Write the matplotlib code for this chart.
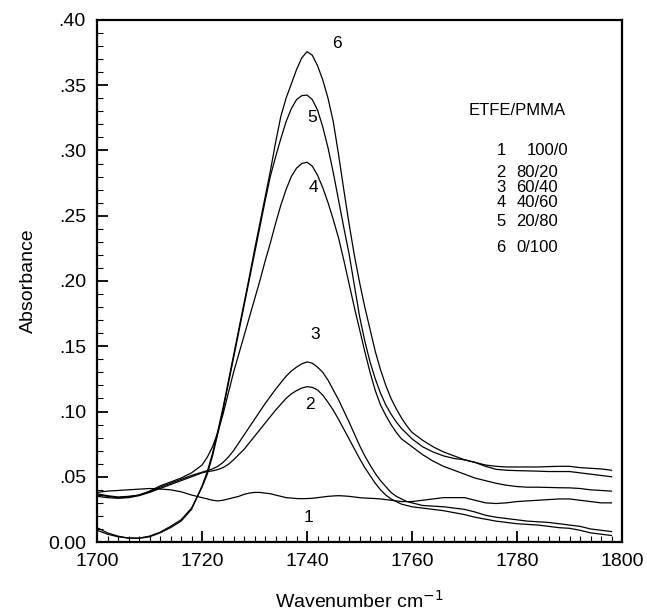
import numpy as np
import matplotlib
matplotlib.use("Agg")
import matplotlib.pyplot as plt
from matplotlib.ticker import MultipleLocator

plt.rcParams['font.family'] = ['Liberation Sans', 'DejaVu Sans']

# wavenumber grid (cm-1): every 2 on the flat parts, every 1 across the band
wavenumber = np.concatenate([np.arange(1700, 1721, 2),
                             np.arange(1721, 1761, 1),
                             np.arange(1762, 1799, 2)])

# absorbance, one list per ETFE/PMMA blend
abs_1 = [.038, .039, .0395, .040, .0405, .041, .0406, .040, .0385, .036, .034,
         .033, .032, .0315, .032, .033, .034, .035, .0365, .0375, .038,
         .038, .0375, .037, .036, .035, .034, .0337, .0333, .0332, .0333,
         .0335, .034, .0345, .035, .0353, .0355, .0353, .035, .0345, .034,
         .0337, .0335, .0333, .033, .0325, .032, .0315, .031, .031, .031,
         .032, .033, .034, .034, .034, .032, .030, .0295, .030, .031,
         .0315, .032, .0325, .033, .033, .032, .031, .030, .030]

abs_2 = [.035, .034, .0335, .034, .0355, .038, .041, .044, .047, .050, .053,
         .054, .0545, .0555, .057, .0595, .063, .067, .071, .076, .081,
         .086, .091, .096, .101, .1055, .110, .1135, .116, .118, .119,
         .1185, .1165, .1125, .107, .101, .094, .0865, .079, .0715, .064,
         .057, .051, .045, .040, .036, .033, .031, .029, .028, .027,
         .026, .025, .024, .0225, .021, .019, .0175, .016, .015, .014,
         .0135, .013, .012, .011, .0105, .009, .007, .006, .005]

abs_3 = [.037, .0355, .0345, .035, .036, .0385, .042, .045, .048, .051, .0535,
         .0547, .056, .058, .061, .065, .070, .076, .082, .088, .094,
         .100, .106, .1115, .117, .122, .127, .131, .134, .1365, .138,
         .137, .134, .130, .124, .1165, .109, .1005, .092, .083, .074,
         .066, .059, .0525, .047, .0425, .038, .035, .033, .031, .030,
         .028, .0275, .027, .026, .025, .023, .0205, .019, .018, .017,
         .016, .0155, .015, .014, .013, .012, .010, .009, .008]

abs_4 = [.036, .035, .034, .0345, .036, .039, .043, .046, .049, .053, .059,
         .065, .073, .084, .098, .114, .130, .144, .158, .172, .186,
         .200, .215, .229, .244, .258, .270, .280, .2865, .290, .291,
         .288, .281, .2715, .260, .247, .233, .216, .198, .180, .163,
         .146, .130, .116, .105, .097, .090, .084, .079, .076, .073,
         .067, .062, .058, .055, .052, .049, .047, .045, .0435, .0425,
         .042, .042, .0418, .0416, .0415, .041, .040, .0395, .039]

abs_5 = [.009, .006, .004, .003, .003, .0045, .0075, .012, .017, .026, .042,
         .052, .066, .083, .101, .121, .141, .161, .181, .201, .221,
         .241, .261, .280, .295, .309, .322, .332, .339, .342, .3425,
         .339, .331, .318, .302, .283, .262, .241, .221, .197, .173,
         .154, .138, .125, .114, .105, .098, .092, .087, .083, .079,
         .073, .069, .066, .064, .063, .061, .059, .058, .0575, .0575,
         .0575, .0575, .0578, .058, .058, .057, .0565, .056, .055]

abs_6 = [.011, .007, .0045, .003, .0028, .004, .007, .011, .016, .025, .043,
         .054, .068, .085, .103, .123, .143, .163, .183, .203, .224,
         .244, .264, .284, .306, .326, .340, .351, .362, .371, .3757,
         .373, .365, .354, .340, .322, .297, .270, .244, .220, .199,
         .180, .163, .146, .132, .120, .110, .102, .095, .089, .084,
         .078, .073, .069, .066, .063, .061, .058, .0557, .055, .0547,
         .0545, .0543, .054, .054, .054, .053, .052, .051, .050]

curves = [abs_1, abs_2, abs_3, abs_4, abs_5, abs_6]

# curve number labels and where they sit
curve_ids = ['1', '2', '3', '4', '5', '6']
label_x = [1740.2, 1740.6, 1741.5, 1741.2, 1741.0, 1745.7]
label_y = [0.019, 0.105, 0.159, 0.272, 0.325, 0.382]

blends = ['100/0', '80/20', '60/40', '40/60', '20/80', '0/100']
legend_y = [0.300, 0.2835, 0.2715, 0.2600, 0.2455, 0.2255]

yticks = [0.0, 0.05, 0.10, 0.15, 0.20, 0.25, 0.30, 0.35, 0.40]
ytick_labels = ['0.00', '.05', '.10', '.15', '.20', '.25', '.30', '.35', '.40']
xticks = [1700, 1720, 1740, 1760, 1780, 1800]

fig = plt.figure(figsize=(6.47, 6.13), dpi=100)
ax = fig.add_axes([0.15, 0.1158, 0.8114, 0.8516])

for c in curves:
    ax.plot(wavenumber, c, color='black', lw=0.9)

for cid, lx, ly in zip(curve_ids, label_x, label_y):
    ax.text(lx, ly, cid, fontsize=12.5, ha='center', va='center')

ax.text(1780, 0.331, 'ETFE/PMMA', fontsize=12, ha='center', va='center')
for cid, b, ly in zip(curve_ids, blends, legend_y):
    ax.text(1776.1, ly, cid, fontsize=12, ha='left', va='center')
    bx = 1781.8 if b == '100/0' else 1779.9
    ax.text(bx, ly, b, fontsize=12, ha='left', va='center')

ax.set_xlim(1700, 1800)
ax.set_ylim(0, 0.40)
ax.set_xticks(xticks)
ax.set_yticks(yticks)
ax.set_yticklabels(ytick_labels)
ax.xaxis.set_minor_locator(MultipleLocator(2))
ax.yaxis.set_minor_locator(MultipleLocator(0.01))
ax.tick_params(which='both', direction='in', top=False, right=False,
               labelsize=14, width=1.3)
ax.tick_params(which='major', length=8, pad=8)
ax.tick_params(which='minor', length=4, width=0.8)
for s in ax.spines.values():
    s.set_linewidth(1.6)

ax.set_xlabel('Wavenumber cm$^{-1}$', fontsize=14, labelpad=14)
ax.set_ylabel('Absorbance', fontsize=14, labelpad=8)

fig.savefig('out.png', dpi=100)
